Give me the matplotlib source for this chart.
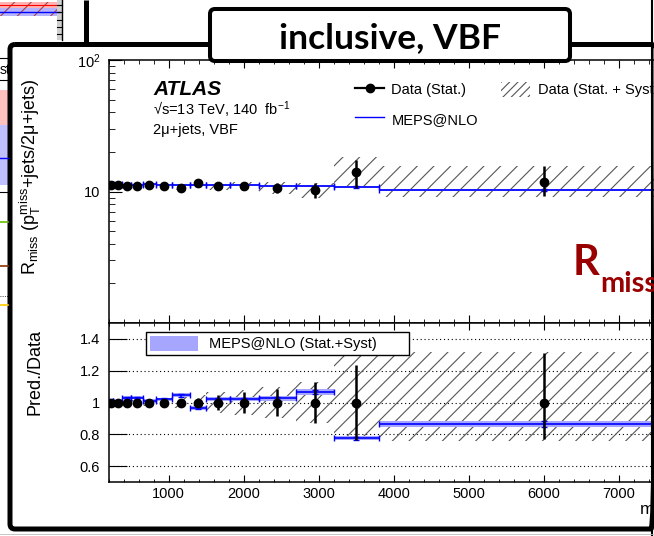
import numpy as np
import matplotlib.pyplot as plt
from matplotlib.patches import FancyBboxPatch, Rectangle, Patch
from matplotlib.lines import Line2D
from matplotlib.ticker import MultipleLocator, LogLocator, NullFormatter

plt.rcParams['font.family'] = ['Liberation Sans', 'DejaVu Sans']
plt.rcParams['mathtext.fontset'] = 'custom'
plt.rcParams['mathtext.rm'] = 'Liberation Sans'
plt.rcParams['mathtext.it'] = 'Liberation Sans:italic'
plt.rcParams['mathtext.bf'] = 'Liberation Sans:bold'
plt.rcParams['hatch.linewidth'] = 0.8

# m_jj binning [GeV]
mjj_edges = [200, 260, 380, 500, 660, 830, 1040, 1280, 1500, 1820, 2200, 2700, 3200, 3800, 8200]

# measured R_miss and uncertainties (relative)
rmiss_data = [11.2, 11.3, 10.95, 10.95, 11.2, 11.0, 10.7, 11.6, 10.95, 10.95, 10.7, 10.3, 14.0, 11.9]
stat_up = [0.004, 0.004, 0.005, 0.006, 0.008, 0.01, 0.02, 0.03, 0.05, 0.065, 0.085, 0.13, 0.235, 0.31]
stat_dn = [0.004, 0.004, 0.005, 0.006, 0.008, 0.01, 0.02, 0.03, 0.05, 0.065, 0.085, 0.13, 0.235, 0.23]
total_up = [0.01, 0.01, 0.012, 0.015, 0.02, 0.025, 0.035, 0.045, 0.065, 0.08, 0.1, 0.13, 0.31, 0.32]
total_dn = [0.01, 0.01, 0.012, 0.015, 0.02, 0.025, 0.035, 0.045, 0.065, 0.08, 0.1, 0.13, 0.23, 0.24]

# MEPS@NLO prediction
meps = [11.31, 11.41, 11.28, 11.28, 11.31, 11.22, 11.18, 11.19, 11.17, 11.17, 10.97, 10.97, 10.85, 10.29]
meps_band = [0.008, 0.008, 0.01, 0.01, 0.01, 0.01, 0.012, 0.012, 0.012, 0.012, 0.015, 0.018, 0.018, 0.022]
meps_stat = [0.004, 0.004, 0.005, 0.005, 0.005, 0.006, 0.008, 0.008, 0.008, 0.008, 0.01, 0.012, 0.012, 0.02]

W, H = 654, 536

edges = np.array(mjj_edges, dtype=float)
centers = 0.5 * (edges[1:] + edges[:-1])
widths = edges[1:] - edges[:-1]
data = np.array(rmiss_data)
pred = np.array(meps)
ratio = pred / data

fig = plt.figure(figsize=(W / 100, H / 100), dpi=100)
fig.patch.set_facecolor('white')

ax1 = fig.add_axes([108.5 / W, 1 - 323 / H, 600.7 / W, 263 / H])
ax2 = fig.add_axes([108.5 / W, 1 - 482 / H, 600.7 / W, 159 / H])

hatch_col = '#555555'
band_col = '#a6a6ff'

# ---- upper panel
lo = data * (1 - np.array(total_dn))
hi = data * (1 + np.array(total_up))
ax1.bar(centers, hi - lo, bottom=lo, width=widths, fill=False, hatch='//',
        edgecolor=hatch_col, linewidth=0, zorder=1)
ax1.bar(centers, 2 * pred * np.array(meps_band), bottom=pred * (1 - np.array(meps_band)),
        width=widths, color=band_col, linewidth=0, zorder=2)
ax1.errorbar(centers, pred, xerr=widths / 2, yerr=pred * np.array(meps_stat), fmt='none',
             ecolor='blue', elinewidth=1.2, capsize=2, capthick=1.0, zorder=3)
ax1.errorbar(centers, data, yerr=[data * np.array(stat_dn), data * np.array(stat_up)],
             fmt='o', color='black', ms=6, elinewidth=1.8, capsize=0, zorder=4)

ax1.set_yscale('log')
ax1.set_ylim(1, 100)
ax1.set_xlim(200, 8200)
ax1.set_yticks([1, 10, 100], ['', '10', '$10^{2}$'])
ax1.yaxis.set_minor_locator(LogLocator(base=10, subs=np.arange(2, 10)))
ax1.yaxis.set_minor_formatter(NullFormatter())
ax1.xaxis.set_major_locator(MultipleLocator(1000))
ax1.xaxis.set_minor_locator(MultipleLocator(200))
ax1.tick_params(axis='x', labelbottom=False)
ax1.set_ylabel(r'R$_{\rm miss}$ (p$_{\rm T}^{\rm miss}$+jets/2μ+jets)', fontsize=13)
ax1.yaxis.set_label_coords((43 - 108.5) / 600.7, (323 - 177) / 263)

ax1.text((153 - 108.5) / 600.7, (323 - 95) / 263, 'ATLAS', transform=ax1.transAxes,
         fontsize=15, fontweight='bold', fontstyle='italic', va='baseline')
ax1.text((153 - 108.5) / 600.7, (323 - 115) / 263, '√s=13 TeV, 140  fb$^{-1}$',
         transform=ax1.transAxes, fontsize=10.5, va='baseline')
ax1.text((153 - 108.5) / 600.7, (323 - 134) / 263, '2μ+jets, VBF',
         transform=ax1.transAxes, fontsize=10.5, va='baseline')

h_data = Line2D([], [], color='black', marker='o', ms=6, lw=1.6)
h_mc = Line2D([], [], color='blue', lw=1)
h_sys = Patch(facecolor='none', edgecolor=hatch_col, hatch='////', linewidth=0)
ax1.legend([h_data, h_mc, h_sys], ['Data (Stat.)', 'MEPS@NLO', 'Data (Stat. + Syst)'],
           ncol=2, loc='upper left', bbox_to_anchor=((355 - 108.5) / 600.7, (323 - 82) / 263),
           frameon=False, fontsize=10.5, handlelength=2.0, handleheight=1.2, handletextpad=0.5,
           columnspacing=1.6, labelspacing=0.95, borderpad=0, borderaxespad=0)

# ---- ratio panel
for v in [0.6, 0.8, 1.0, 1.2, 1.4]:
    ax2.axhline(v, color='black', ls=(0, (1, 2.5)), lw=0.8, zorder=0.5)

ax2.bar(centers, np.array(total_up) + np.array(total_dn), bottom=1 - np.array(total_dn),
        width=widths, fill=False, hatch='//', edgecolor=hatch_col, linewidth=0, zorder=1)
ax2.bar(centers, 2 * ratio * np.array(meps_band), bottom=ratio * (1 - np.array(meps_band)),
        width=widths, color=band_col, linewidth=0, zorder=2)
ax2.errorbar(centers, ratio, xerr=widths / 2, yerr=ratio * np.array(meps_stat), fmt='none',
             ecolor='blue', elinewidth=1.2, capsize=2, capthick=1.0, zorder=3)
ax2.errorbar(centers, np.ones_like(data), yerr=[stat_dn, stat_up],
             fmt='o', color='black', ms=6, elinewidth=1.8, capsize=0, zorder=4)

ax2.set_xlim(200, 8200)
ax2.set_ylim(0.5, 1.5)
ax2.set_yticks([0.6, 0.8, 1.0, 1.2, 1.4], ['0.6', '0.8', '1', '1.2', '1.4'])
ax2.xaxis.set_major_locator(MultipleLocator(1000))
ax2.xaxis.set_minor_locator(MultipleLocator(200))
ax2.set_ylabel('Pred./Data', fontsize=13)
ax2.yaxis.set_label_coords((43 - 108.5) / 600.7, (482 - 372) / 159)

ax2.legend([Patch(facecolor=band_col, edgecolor='none')], ['MEPS@NLO (Stat.+Syst)'],
           loc='upper left', mode='expand',
           bbox_to_anchor=((146 - 108.5) / 600.7, (482 - 358) / 159, 263 / 600.7, 26 / 159),
           frameon=True, fancybox=False, edgecolor='black', framealpha=1,
           fontsize=10.5, handlelength=3.3, handleheight=1.2, borderpad=0.25,
           borderaxespad=0)

for ax in (ax1, ax2):
    ax.tick_params(which='both', direction='in', top=True, right=True, labelsize=10.5)
    ax.tick_params(axis='y', which='major', pad=6)
    for s in ax.spines.values():
        s.set_linewidth(1.1)
ax1.tick_params(axis='x', which='major', length=6)
ax1.tick_params(axis='x', which='minor', length=3)
ax1.tick_params(axis='y', which='major', length=9)
ax1.tick_params(axis='y', which='minor', length=4.5)
ax2.tick_params(axis='x', which='major', length=5)
ax2.tick_params(axis='x', which='minor', length=2.5)
ax2.tick_params(axis='y', which='major', length=13)

fig.text(639 / W, 1 - 515 / H, r'm$_{\rm jj}$ [GeV]', fontsize=12.5, va='baseline')

# ---- slide overlay
ov = fig.add_axes([0, 0, 1, 1], zorder=10)
ov.set_xlim(0, W)
ov.set_ylim(H, 0)
ov.axis('off')

# bits of the neighbouring chart
ov.add_patch(Rectangle((0, 2), 60, 6, fc='#ffb3b3', lw=0))
ov.add_patch(Rectangle((0, 8), 60, 8, fc='#b3b3ff', lw=0))
ov.plot([0, 60], [5, 5], color='red', lw=0.8)
ov.plot([0, 60], [12, 12], color='blue', lw=1)
ov.add_patch(Rectangle((0, 2), 60, 14, fill=False, hatch='//', ec='#aa4444', lw=0))
ov.add_patch(Rectangle((57, 0), 5, 40, fc='#d0d0d0', lw=0))
ov.plot([62, 62], [0, 40], color='black', lw=1)
for yt in [5, 12, 20, 27, 34]:
    ov.plot([57, 62], [yt, yt], color='black', lw=0.8)
ov.plot([0, 8], [58, 58], color='black', lw=0.8)
ov.plot([0, 8], [80, 80], color='black', lw=0.8)
ov.text(0, 70, 'st', fontsize=10, va='center')
ov.add_patch(Rectangle((0, 90), 8, 35, fc='#ffc0c0', lw=0))
ov.add_patch(Rectangle((0, 125), 8, 60, fc='#c0c0ff', lw=0))
ov.plot([0, 8], [158, 158], color='blue', lw=1)
ov.plot([0, 8], [192, 192], color='black', lw=0.8)
ov.plot([0, 8], [222, 222], color='#66bb00', lw=1.2)
ov.plot([0, 8], [266, 266], color='#883300', lw=1.2)
ov.plot([0, 8], [305, 305], color='#ffcc00', lw=1.2)
ov.plot([0, 8], [296, 296], color='black', lw=0.6, ls=':')

# frames
ov.plot([86, 86], [0, 44], color='black', lw=3.6, solid_capstyle='butt')
ov.plot([652, 652], [0, H], color='black', lw=1.5)
ov.add_patch(FancyBboxPatch((10, 44.5), 646, 484.5, boxstyle='round,pad=0,rounding_size=5',
                            lw=3.6, ec='black', fc='none'))
ov.plot([0, W], [534, 534], color='#bbbbbb', lw=0.6)

ov.add_patch(FancyBboxPatch((210, 9), 360, 52, boxstyle='round,pad=0,rounding_size=5',
                            lw=2.9, ec='black', fc='white', zorder=6))
ov.text(390, 48, 'inclusive, VBF', family=['Lato', 'DejaVu Sans'], fontweight='bold',
        fontsize=25.5, ha='center', va='baseline', zorder=7)

ov.text(573, 275, 'R', family=['Lato', 'DejaVu Sans'], fontweight='bold', fontsize=30,
        color='#990000', va='baseline')
ov.text(600, 292, 'miss', family=['Lato', 'DejaVu Sans'], fontweight='bold', fontsize=21,
        color='#990000', va='baseline')

fig.savefig('out.png', dpi=100)
